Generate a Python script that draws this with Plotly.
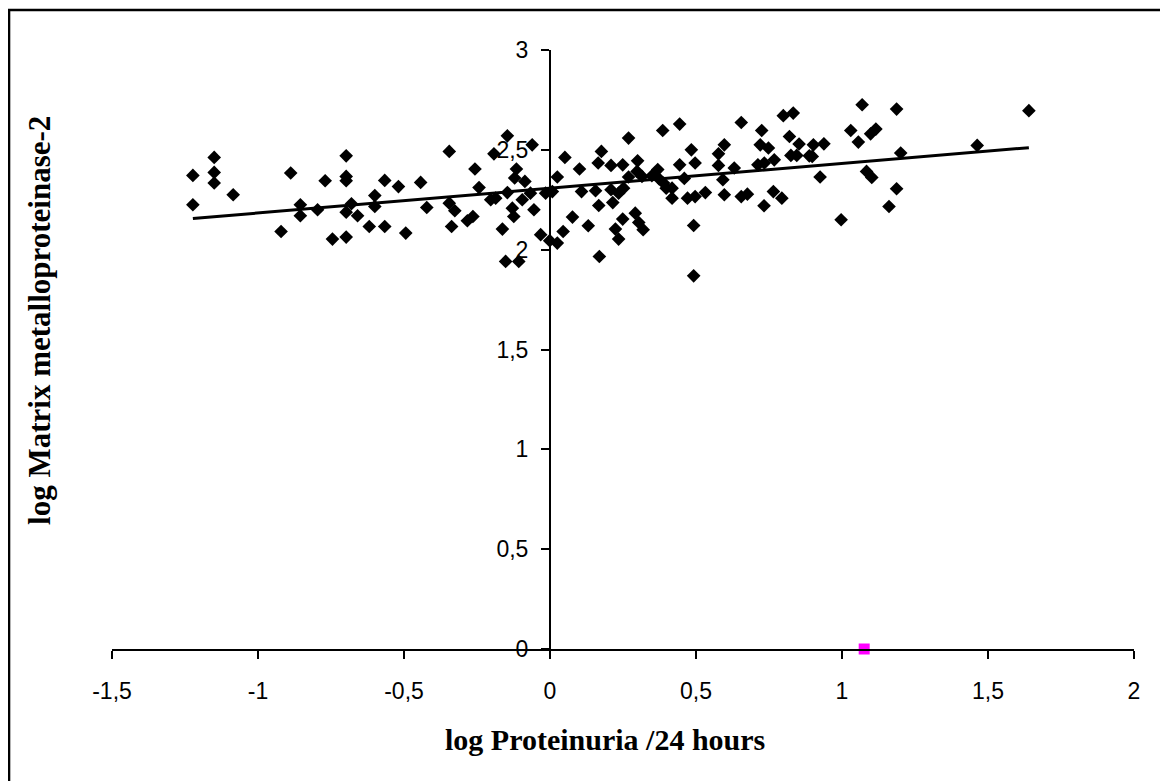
import numpy as np
import plotly.graph_objects as go

# log Proteinuria /24 hours (x) and log MMP-2 (y)
proteinuria_log = [
    -1.223, -1.223, -1.150, -1.150, -1.150, -1.085, -0.888, -0.921, -0.855, -0.855,
    -0.796, -0.770, -0.745, -0.698, -0.698, -0.698, -0.680, -0.698, -0.659, -0.698,
    -0.619, -0.600, -0.600, -0.566, -0.566, -0.519, -0.494, -0.443, -0.422, -0.345,
    -0.345, -0.326, -0.337, -0.283, -0.264, -0.257, -0.243, -0.203, -0.186, -0.192,
    -0.163, -0.146, -0.146, -0.129, -0.124, -0.115, -0.121, -0.086, -0.095, -0.067,
    -0.055, -0.061, -0.152, -0.107, -0.032, -0.015, 0.008, -0.001, 0.025, 0.025,
    0.051, 0.045, 0.077, 0.101, 0.108, 0.131, 0.169, 0.165, 0.176, 0.156,
    0.167, 0.209, 0.209, 0.215, 0.224, 0.235, 0.249, 0.249, 0.235, 0.252,
    0.269, 0.269, 0.292, 0.304, 0.319, 0.300, 0.298, 0.315, 0.349, 0.369,
    0.374, 0.389, 0.398, 0.418, 0.418, 0.386, 0.444, 0.444, 0.460, 0.471,
    0.497, 0.532, 0.484, 0.497, 0.492, 0.492, 0.577, 0.597, 0.577, 0.592,
    0.597, 0.631, 0.655, 0.655, 0.676, 0.712, 0.720, 0.725, 0.734, 0.748,
    0.768, 0.765, 0.794, 0.733, 0.799, 0.833, 0.820, 0.853, 0.825, 0.845,
    0.888, 0.902, 0.938, 0.898, 0.925, 0.997, 1.030, 1.069, 1.056, 1.098,
    1.116, 1.084, 1.102, 1.187, 1.201, 1.187, 1.161, 1.463, 1.640,
]
mmp2_log = [
    2.372, 2.225, 2.462, 2.387, 2.334, 2.275, 2.384, 2.091, 2.225, 2.170,
    2.200, 2.345, 2.053, 2.470, 2.367, 2.345, 2.230, 2.188, 2.170, 2.063,
    2.116, 2.271, 2.216, 2.347, 2.116, 2.316, 2.083, 2.337, 2.211, 2.492,
    2.233, 2.195, 2.116, 2.145, 2.166, 2.404, 2.311, 2.250, 2.258, 2.480,
    2.103, 2.570, 2.286, 2.208, 2.166, 2.404, 2.359, 2.342, 2.250, 2.283,
    2.200, 2.525, 1.941, 1.941, 2.075, 2.283, 2.291, 2.045, 2.033, 2.364,
    2.462, 2.091, 2.163, 2.404, 2.291, 2.120, 1.966, 2.434, 2.492, 2.295,
    2.221, 2.422, 2.300, 2.236, 2.103, 2.053, 2.425, 2.153, 2.283, 2.308,
    2.559, 2.364, 2.183, 2.136, 2.100, 2.445, 2.392, 2.367, 2.370, 2.401,
    2.354, 2.334, 2.308, 2.308, 2.258, 2.597, 2.629, 2.425, 2.357, 2.258,
    2.266, 2.286, 2.500, 2.434, 2.121, 1.869, 2.480, 2.525, 2.422, 2.350,
    2.275, 2.409, 2.637, 2.266, 2.278, 2.425, 2.525, 2.597, 2.434, 2.509,
    2.450, 2.291, 2.258, 2.220, 2.671, 2.684, 2.567, 2.529, 2.472, 2.472,
    2.470, 2.525, 2.530, 2.467, 2.364, 2.150, 2.597, 2.726, 2.539, 2.580,
    2.604, 2.392, 2.362, 2.704, 2.484, 2.305, 2.216, 2.522, 2.696,
]
outlier_x = [1.076]
outlier_y = [0.0]

x_ticks = [-1.5, -1, -0.5, 0, 0.5, 1, 1.5, 2]
x_tick_labels = ["-1,5", "-1", "-0,5", "0", "0,5", "1", "1,5", "2"]
y_ticks = [0, 0.5, 1, 1.5, 2, 2.5, 3]
y_tick_labels = ["0", "0,5", "1", "1,5", "2", "2,5", "3"]

x_arr = np.array(proteinuria_log)
y_arr = np.array(mmp2_log)
slope, intercept = np.polyfit(x_arr, y_arr, 1)
trend_x = np.array([x_arr.min(), x_arr.max()])
trend_y = slope * trend_x + intercept

# page has an 8px body margin; figure coordinates = page coordinates - 8
OFF = 8
W, H = 1160, 773
PL, PR, PT, PB = 112, 1134.5, 50, 649.3   # plot area in page pixels
ML = PL - OFF
MT = PT - OFF
MR = W - (PR - OFF)
MB = H - (PB - OFF)
pw, ph = W - ML - MR, H - MT - MB

def px2paper_x(page_px):
    return (page_px - OFF - ML) / pw

def px2paper_y(page_py):
    return (H - MB - (page_py - OFF)) / ph

fig = go.Figure()
fig.add_trace(go.Scatter(
    x=proteinuria_log, y=mmp2_log, mode="markers",
    marker=dict(symbol="diamond", size=10.5, color="black", line=dict(width=0)),
    cliponaxis=False, showlegend=False,
))
fig.add_trace(go.Scatter(
    x=trend_x, y=trend_y, mode="lines",
    line=dict(color="black", width=3), showlegend=False,
))
fig.add_trace(go.Scatter(
    x=outlier_x, y=outlier_y, mode="markers",
    marker=dict(symbol="square", size=11, color="#FF00FF", line=dict(width=0)),
    cliponaxis=False, showlegend=False,
))

x0_frac = (0 - (-1.5)) / (2 - (-1.5))

fig.update_layout(
    width=W, height=H,
    margin=dict(l=ML, r=MR, t=MT, b=MB, pad=0),
    paper_bgcolor="white", plot_bgcolor="white",
    font=dict(family="Liberation Sans, Arial", size=23, color="black"),
    xaxis=dict(
        range=[-1.5, 2], tickvals=x_ticks, ticktext=x_tick_labels,
        showgrid=False, zeroline=False,
        showline=True, linecolor="black", linewidth=2,
        ticks="outside", ticklen=8, tickwidth=2, tickcolor="black",
        ticklabelstandoff=12, anchor="y",
        tickfont=dict(family="Liberation Sans, Arial", size=23),
    ),
    yaxis=dict(
        range=[0, 3], tickvals=y_ticks, ticktext=y_tick_labels,
        showgrid=False, zeroline=False,
        showline=True, linecolor="black", linewidth=2,
        ticks="outside", ticklen=8, tickwidth=2, tickcolor="black",
        ticklabelstandoff=8, anchor="free", position=x0_frac, side="left",
        tickfont=dict(family="Liberation Sans, Arial", size=23),
    ),
    annotations=[
        dict(text="<b>log Proteinuria /24 hours</b>", xref="paper", yref="paper",
             x=px2paper_x(605), y=px2paper_y(740), showarrow=False,
             xanchor="center", yanchor="middle",
             font=dict(family="Liberation Serif, Times New Roman", size=30, color="black")),
        dict(text="<b>log Matrix metalloproteinase-2</b>", xref="paper", yref="paper",
             x=px2paper_x(40), y=px2paper_y(321), showarrow=False, textangle=-90,
             xanchor="center", yanchor="middle",
             font=dict(family="Liberation Serif, Times New Roman", size=31, color="black")),
    ],
    shapes=[
        dict(type="rect", xref="paper", yref="paper",
             x0=px2paper_x(9), x1=px2paper_x(1200),
             y0=px2paper_y(820), y1=px2paper_y(10),
             line=dict(color="black", width=2.5), fillcolor="rgba(0,0,0,0)", layer="below"),
    ],
)

fig.write_html("out.html")
